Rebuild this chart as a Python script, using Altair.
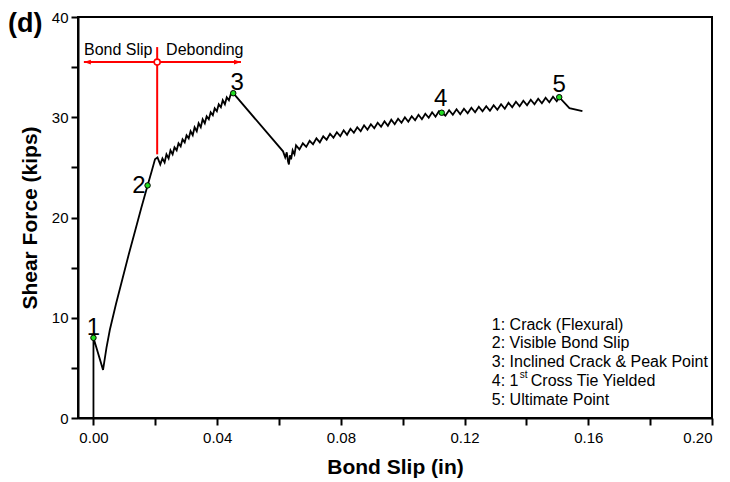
import altair as alt
import pandas as pd

# ---- curve (bond slip in inches, shear force in kips) ----
slip = [
    0.0, 0.0, 0.0031, 0.0042, 0.0053, 0.0073, 0.0093, 0.0114, 0.0135, 0.0155, 0.0175,
    0.0188, 0.0199, 0.0207, 0.0216,
    0.0223, 0.0230, 0.0236, 0.0243, 0.0249, 0.0256, 0.0262, 0.0269, 0.0275, 0.0282,
    0.0288, 0.0295, 0.0301, 0.0308, 0.0314, 0.0321, 0.0327, 0.0334, 0.0340, 0.0347,
    0.0353, 0.0360, 0.0366, 0.0373, 0.0379, 0.0386, 0.0392, 0.0399, 0.0405, 0.0412,
    0.0418, 0.0425, 0.0431, 0.0438, 0.0444, 0.0452,
    0.0613, 0.0620, 0.0625, 0.0629, 0.0632, 0.0635, 0.0639, 0.0644, 0.0650,
    0.0655, 0.0666, 0.0677, 0.0688, 0.0699, 0.0710, 0.0721, 0.0732, 0.0743, 0.0754,
    0.0765, 0.0776, 0.0787, 0.0798, 0.0809, 0.0820, 0.0831, 0.0842, 0.0853, 0.0864,
    0.0875, 0.0886, 0.0897, 0.0908, 0.0919, 0.0930, 0.0941, 0.0952, 0.0963, 0.0974,
    0.0985, 0.0996, 0.1007, 0.1018, 0.1029, 0.1040, 0.1051, 0.1062, 0.1073, 0.1084,
    0.1095, 0.1106, 0.1117, 0.1126,
    0.1138, 0.1150, 0.1162, 0.1174, 0.1186, 0.1198, 0.1210, 0.1222, 0.1234, 0.1246,
    0.1258, 0.1270, 0.1282, 0.1294, 0.1306, 0.1318, 0.1330, 0.1342, 0.1354, 0.1366,
    0.1378, 0.1390, 0.1402, 0.1414, 0.1426, 0.1438, 0.1450, 0.1462, 0.1474, 0.1486,
    0.1498, 0.1506,
    0.1539, 0.1581,
]
force = [
    0.0, 8.0, 4.8, 7.0, 8.8, 11.4, 13.8, 16.3, 18.7, 21.0, 23.2,
    24.6, 25.8, 26.0, 25.3,
    25.9, 25.5, 26.3, 25.9, 26.7, 26.3, 27.0, 26.7, 27.4, 27.1,
    27.8, 27.5, 28.2, 27.9, 28.6, 28.2, 29.0, 28.6, 29.4, 29.0,
    29.8, 29.4, 30.1, 29.8, 30.5, 30.2, 30.9, 30.6, 31.3, 31.0,
    31.7, 31.3, 32.0, 31.7, 32.3, 32.4,
    26.6, 26.0, 26.5, 25.6, 25.3, 26.2, 25.8, 26.7, 26.3,
    27.2, 26.8, 27.4, 27.05, 27.65, 27.3, 27.9, 27.5, 28.1, 27.75,
    28.35, 27.95, 28.5, 28.1, 28.7, 28.25, 28.85, 28.45, 29.0, 28.6,
    29.2, 28.75, 29.3, 28.9, 29.45, 29.05, 29.6, 29.15, 29.75, 29.3,
    29.85, 29.45, 30.0, 29.55, 30.1, 29.7, 30.25, 29.8, 30.35, 29.95,
    30.5, 30.05, 30.6, 30.45,
    30.15, 30.7, 30.25, 30.8, 30.3, 30.85, 30.4, 30.95, 30.5, 31.05,
    30.6, 31.1, 30.65, 31.2, 30.75, 31.3, 30.85, 31.45, 31.0, 31.55,
    31.1, 31.65, 31.2, 31.75, 31.3, 31.85, 31.4, 31.95, 31.5, 32.05,
    31.6, 32.0,
    30.9, 30.6,
]

# ---- marked points ----
pt_label = ["1", "2", "3", "4", "5"]
pt_slip = [0.0, 0.0175, 0.0452, 0.1126, 0.1506]
pt_force = [8.0, 23.2, 32.4, 30.45, 32.0]

# ---- legend text ----
legend_lines = ["1: Crack (Flexural)", "2: Visible Bond Slip",
                "3: Inclined Crack & Peak Point", "4: 1", "5: Ultimate Point"]
legend_sup = ["st"]
legend_rest = ["Cross Tie Yielded"]
legend_x = 0.1288
legend_y = [9.28, 7.51, 5.61, 3.69, 1.80]

# ---- red annotation ----
ann_text = ["Bond Slip", "Debonding"]
ann_x = [0.0080, 0.0360]
ann_y = 36.7
arrow_left, arrow_right, arrow_y = -0.0031, 0.0477, 35.5
divider_x, divider_top, divider_bottom = 0.0206, 37.0, 26.3

x_ticks = [0.0, 0.02, 0.04, 0.06, 0.08, 0.10, 0.12, 0.14, 0.16, 0.18, 0.20]
y_ticks = [0, 5, 10, 15, 20, 25, 30, 35, 40]

FONT = "Liberation Sans"

x_enc = alt.X("x:Q", title="Bond Slip (in)",
              scale=alt.Scale(domain=[-0.005, 0.20], nice=False, zero=False),
              axis=alt.Axis(values=x_ticks,
                            labelExpr="abs(round(datum.value*100)) % 4 == 0 ? format(datum.value, '.2f') : ''",
                            labelPadding=5, titlePadding=11))
y_enc = alt.Y("y:Q", title="Shear Force (kips)",
              scale=alt.Scale(domain=[0, 40], nice=False),
              axis=alt.Axis(values=y_ticks,
                            labelExpr="datum.value % 10 == 0 ? datum.label : ''",
                            labelPadding=3, titlePadding=11))

curve_df = pd.DataFrame({"x": slip, "y": force, "i": list(range(len(slip)))})
pts_df = pd.DataFrame({"x": pt_slip, "y": pt_force, "lab": pt_label})

curve = alt.Chart(curve_df).mark_line(color="black", strokeWidth=1.8).encode(
    x=x_enc, y=y_enc, order="i:Q")

points = alt.Chart(pts_df).mark_point(filled=True, fill="#22dd22", stroke="black",
                                      strokeWidth=1, size=30, opacity=1).encode(x=x_enc, y=y_enc)

label_offsets = {"1": ("center", 0, -3), "2": ("right", -2, 8), "3": ("center", 4, -3),
                 "4": ("center", -1, -7), "5": ("center", 0, -5)}
labels = []
for lab in pt_label:
    al, dx, dy = label_offsets[lab]
    labels.append(
        alt.Chart(pts_df).transform_filter(alt.datum.lab == lab)
        .mark_text(align=al, baseline="alphabetic", dx=dx, dy=dy, font=FONT,
                   fontSize=24, color="black")
        .encode(x=x_enc, y=y_enc, text="lab:N"))

leg_df = pd.DataFrame({"x": [legend_x] * len(legend_lines), "y": legend_y, "t": legend_lines})
legend = alt.Chart(leg_df).mark_text(align="left", baseline="middle", font=FONT,
                                     fontSize=16, color="black").encode(
    x=x_enc, y=y_enc, text="t:N")
sup_df = pd.DataFrame({"x": [legend_x], "y": [legend_y[3]], "t": legend_sup})
sup = alt.Chart(sup_df).mark_text(align="left", baseline="middle", font=FONT, fontSize=10,
                                  dx=28, dy=-6, color="black").encode(x=x_enc, y=y_enc, text="t:N")
rest_df = pd.DataFrame({"x": [legend_x], "y": [legend_y[3]], "t": legend_rest})
rest = alt.Chart(rest_df).mark_text(align="left", baseline="middle", font=FONT, fontSize=16,
                                    dx=39, color="black").encode(x=x_enc, y=y_enc, text="t:N")

RED = "#ff0000"
hline_df = pd.DataFrame({"x": [arrow_left], "x2": [arrow_right], "y": [arrow_y]})
hline = alt.Chart(hline_df).mark_rule(color=RED, strokeWidth=2).encode(
    x=x_enc, x2="x2:Q", y=y_enc)
vline_df = pd.DataFrame({"x": [divider_x], "y": [divider_bottom], "y2": [divider_top]})
vline = alt.Chart(vline_df).mark_rule(color=RED, strokeWidth=2).encode(
    x=x_enc, y=y_enc, y2="y2:Q")
lhead = alt.Chart(pd.DataFrame({"x": [arrow_left], "y": [arrow_y]})).mark_point(
    shape="M0,0L2,-0.7L2,0.7Z", filled=True, color=RED, size=49, opacity=1).encode(x=x_enc, y=y_enc)
rhead = alt.Chart(pd.DataFrame({"x": [arrow_right], "y": [arrow_y]})).mark_point(
    shape="M0,0L-2,-0.7L-2,0.7Z", filled=True, color=RED, size=49, opacity=1).encode(x=x_enc, y=y_enc)
circ = alt.Chart(pd.DataFrame({"x": [divider_x], "y": [arrow_y]})).mark_point(
    filled=True, fill="white", stroke=RED, strokeWidth=1.6, size=36, opacity=1).encode(x=x_enc, y=y_enc)
ann_df = pd.DataFrame({"x": ann_x, "y": [ann_y] * 2, "t": ann_text})
ann = alt.Chart(ann_df).mark_text(align="center", baseline="middle", font=FONT, fontSize=16,
                                  color="black").encode(x=x_enc, y=y_enc, text="t:N")

panel = alt.Chart(pd.DataFrame({"t": ["(d)"]})).mark_text(
    align="left", baseline="middle", font=FONT, fontSize=27, fontWeight="bold",
    color="black").encode(x=alt.value(-70), y=alt.value(7), text="t:N")

chart = alt.layer(curve, vline, hline, lhead, rhead, circ, ann, points, *labels,
                  legend, sup, rest, panel).properties(
    width=634, height=401,
    autosize=alt.AutoSizeParams(type="none"),
    padding={"left": 70, "top": 9, "right": 10, "bottom": 64},
).configure_axis(
    domainColor="black", domainWidth=2, tickColor="black", tickWidth=2, tickSize=7,
    labelColor="black", labelFont=FONT, labelFontSize=15,
    titleFont=FONT, titleFontSize=21, titleFontWeight="bold", titleColor="black",
    grid=False,
).configure_view(stroke="black", strokeWidth=2)

chart.save("out.html", embed_options={"renderer": "svg", "actions": False})
